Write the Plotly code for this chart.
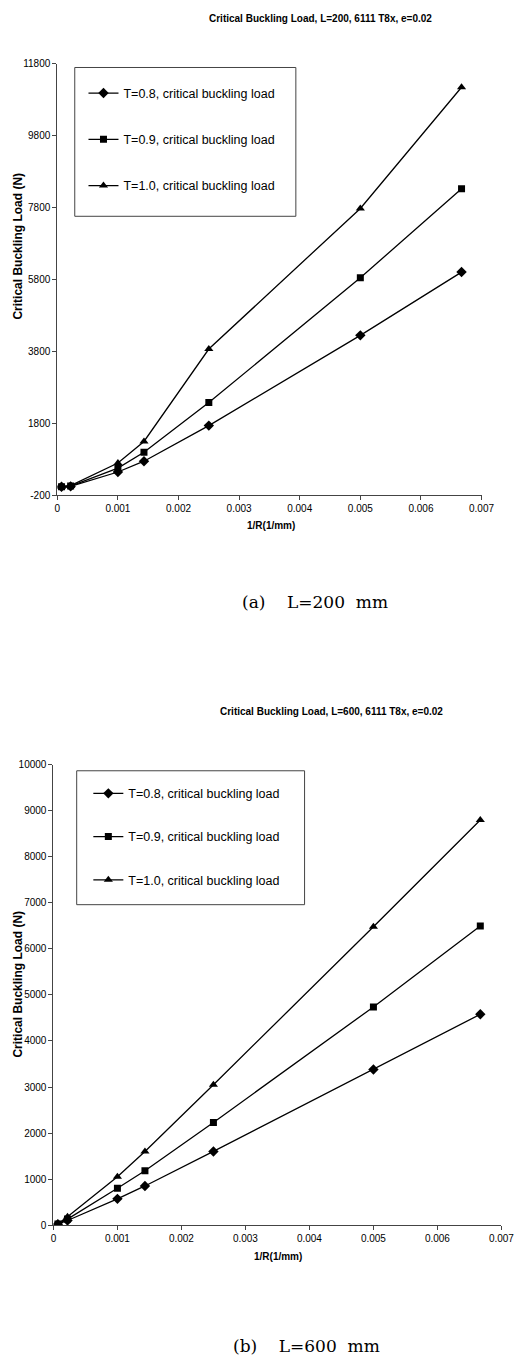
import plotly.graph_objects as go

# ---------------- data ----------------
x_vals = [0.00007, 0.00022, 0.001, 0.00143, 0.0025, 0.005, 0.00667]

series_names = ["T=0.8, critical buckling load",
                "T=0.9, critical buckling load",
                "T=1.0, critical buckling load"]

# (a) L=200 mm
a_t08 = [30, 40, 440, 740, 1730, 4240, 6000]
a_t09 = [30, 50, 550, 990, 2370, 5840, 8320]
a_t10 = [30, 60, 690, 1290, 3860, 7770, 11140]

# (b) L=600 mm
b_t08 = [20, 100, 570, 850, 1600, 3380, 4580]
b_t09 = [25, 130, 800, 1180, 2230, 4740, 6500]
b_t10 = [30, 180, 1050, 1600, 3050, 6480, 8800]

a_yticks = [-200, 1800, 3800, 5800, 7800, 9800, 11800]
b_yticks = [0, 1000, 2000, 3000, 4000, 5000, 6000, 7000, 8000, 9000, 10000]
x_ticks = [0, 0.001, 0.002, 0.003, 0.004, 0.005, 0.006, 0.007]
x_ticktext = ["0", "0.001", "0.002", "0.003", "0.004", "0.005", "0.006", "0.007"]

titles = ["Critical Buckling Load, L=200, 6111 T8x, e=0.02",
          "Critical Buckling Load, L=600, 6111 T8x, e=0.02"]
NB = "\u00a0"
captions = ["(a)" + NB * 4 + "L=200" + NB * 2 + "mm",
            "(b)" + NB * 4 + "L=600" + NB * 2 + "mm"]

# ---------------- layout helpers ----------------
W, H = 528, 1364
def px(v):
    return v / W
def py(v):
    return 1 - v / H

SANS = "Liberation Sans, Arial"
symbols = ["diamond", "square", "triangle-up"]
msizes = [8, 7, 8]

fig = go.Figure()

for i, (name, ys) in enumerate(zip(series_names, [a_t08, a_t09, a_t10])):
    fig.add_trace(go.Scatter(
        x=x_vals, y=ys, name=name, mode="lines+markers",
        line=dict(color="black", width=1.3),
        marker=dict(symbol=symbols[i], size=msizes[i], color="black"),
        xaxis="x", yaxis="y", legend="legend", legendgroup="a%d" % i))

for i, (name, ys) in enumerate(zip(series_names, [b_t08, b_t09, b_t10])):
    fig.add_trace(go.Scatter(
        x=x_vals, y=ys, name=name, mode="lines+markers",
        line=dict(color="black", width=1.3),
        marker=dict(symbol=symbols[i], size=msizes[i], color="black"),
        xaxis="x2", yaxis="y2", legend="legend2", legendgroup="b%d" % i))

axis_common = dict(showgrid=False, zeroline=False, showline=True,
                   linecolor="#444", linewidth=1, ticks="outside", ticklen=4,
                   tickcolor="#444", tickfont=dict(family=SANS, size=10, color="black"))

fig.update_layout(
    width=W, height=H, margin=dict(l=0, r=0, t=0, b=0),
    paper_bgcolor="white", plot_bgcolor="white",
    showlegend=True,
    xaxis=dict(domain=[px(56), px(493.5)], range=[0, 0.007], tickvals=x_ticks,
               ticktext=x_ticktext, anchor="y", **axis_common),
    yaxis=dict(domain=[py(494), py(59)], range=[-200, 11800], tickvals=a_yticks,
               ticktext=[str(v) for v in a_yticks], anchor="x", **axis_common),
    xaxis2=dict(domain=[px(52), px(514)], range=[0, 0.007], tickvals=x_ticks,
                ticktext=x_ticktext, anchor="y2", **axis_common),
    yaxis2=dict(domain=[py(1230), py(766)], range=[0, 10000], tickvals=b_yticks,
                ticktext=[str(v) for v in b_yticks], anchor="x2", **axis_common),
    legend=dict(x=px(83), y=py(74), xanchor="left", yanchor="top",
                bgcolor="rgba(0,0,0,0)", borderwidth=0,
                font=dict(family=SANS, size=12.5, color="black"),
                tracegroupgap=27, itemwidth=30),
    legend2=dict(x=px(88), y=py(780), xanchor="left", yanchor="top",
                 bgcolor="rgba(0,0,0,0)", borderwidth=0,
                 font=dict(family=SANS, size=12.5, color="black"),
                 tracegroupgap=24, itemwidth=30),
    shapes=[
        dict(type="rect", xref="paper", yref="paper", x0=px(74), x1=px(302),
             y0=py(213), y1=py(63), line=dict(color="#444", width=1)),
        dict(type="rect", xref="paper", yref="paper", x0=px(76), x1=px(311),
             y0=py(907), y1=py(772), line=dict(color="#444", width=1)),
    ],
)

def note(text, xp, yp, size, family=SANS, angle=0):
    return dict(text=text, x=px(xp), y=py(yp), xref="paper", yref="paper",
                xanchor="center", yanchor="middle", showarrow=False, textangle=angle,
                font=dict(family=family, size=size, color="black"))

ann = [
    note("<b>" + titles[0] + "</b>", 327, 14, 10),
    note("<b>" + titles[1] + "</b>", 339, 712, 10),
    note("<b>Critical Buckling Load (N)</b>", 15, 243, 12, angle=-90),
    note("<b>Critical Buckling Load (N)</b>", 15, 987, 12, angle=-90),
    note("<b>1/R(1/mm)</b>", 276, 525, 10),
    note("<b>1/R(1/mm)</b>", 284, 1262, 10),
    note(captions[0], 322, 602, 17, family="DejaVu Serif, serif"),
    note(captions[1], 313, 1352, 17, family="DejaVu Serif, serif"),
]
fig.update_layout(annotations=ann)

fig.write_html("out.html")
